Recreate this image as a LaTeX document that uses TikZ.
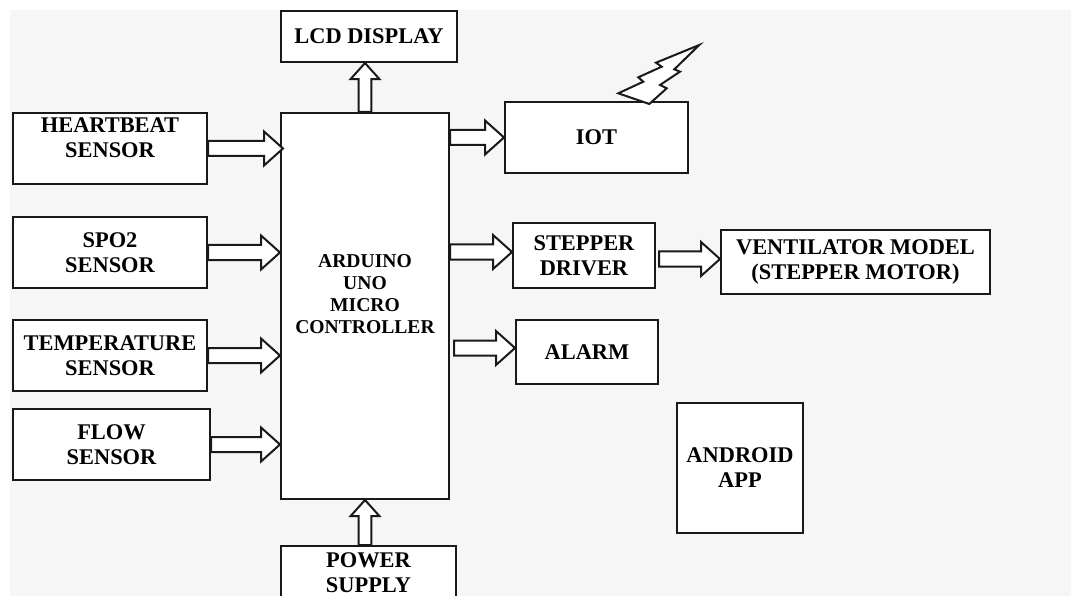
\documentclass[tikz,border=0pt]{standalone}
\usepackage{fontspec}
\setmainfont{Liberation Serif}
\usetikzlibrary{calc,positioning}
\definecolor{pagegrey}{HTML}{F6F6F6}
\newcommand{\BlockArrow}[3][1]% #1=scale (optional), #2 tail, #3 tip
{\coordinate (tempa) at ($(#3)!#1*19pt!(#2)$);
 \draw[arrowline] ($(#2)!#1*7.5pt!90:(#3)$) -- ($(tempa)!#1*7.5pt!90:(#3)$)
   -- ($(tempa)!#1*17pt!90:(#3)$) -- (#3) -- ($(tempa)!#1*17pt!-90:(#3)$)
   -- ($(tempa)!#1*7.5pt!-90:(#3)$) -- ($(#2)!#1*7.5pt!-90:(#3)$) -- cycle;
}
\tikzset{
  block/.style={draw=black!90,line width=2pt,fill=white,inner sep=0pt,align=center,
    font=\fontsize{22.4}{25}\selectfont\bfseries},
  blocktext/.style={inner sep=0pt,align=center,font=\fontsize{22.4}{25}\selectfont\bfseries},
  arrowline/.style={draw=black!90,line width=2pt,fill=white,line join=miter}
}
\begin{document}
\begin{tikzpicture}[x=1pt,y=-1pt]

    %\draw (0,0) grid (1071,596);
    \useasboundingbox (0,0) rectangle (1071,596);
    \clip (0,0) rectangle (1071,596);
    \fill[pagegrey] (10,10) rectangle (1071,596);

    \node[block,minimum width=176,minimum height=51] (lcd) at (369,36.5) {LCD DISPLAY};
    \node[block,minimum width=168,minimum height=386] (mcu) at (365,306) {};
    \node[blocktext,font=\fontsize{19.6}{22}\selectfont\bfseries] (mcutext) at (mcu.center) [yshift=12] {ARDUINO\\UNO\\MICRO\\CONTROLLER};

    \node[block,minimum width=194,minimum height=71] (hb) at (110,148.5) {};
    \node[blocktext] (hbtext) at (hb.center) [yshift=11] {HEARTBEAT\\SENSOR};
    \node[block,minimum width=194,minimum height=71] (spo) at (110,252.5) {SPO2\\SENSOR};
    \node[block,minimum width=194,minimum height=71] (temp) at (110,355.5) {TEMPERATURE\\SENSOR};
    \node[block,minimum width=197,minimum height=71] (flow) at (111.5,444.5) {FLOW\\SENSOR};

    \node[block,minimum width=183,minimum height=71] (iot) at (596.5,137.5) {IOT};
    \node[block,minimum width=142,minimum height=64] (driver) at (584,255.5) {STEPPER\\DRIVER};
    \node[block,minimum width=269,minimum height=64] (vent) at (855.5,262) {VENTILATOR MODEL\\(STEPPER MOTOR)};
    \node[block,minimum width=142,minimum height=64] (alarm) at (587,352) {ALARM};
    \node[block,minimum width=126,minimum height=130] (app) at (740,468) {ANDROID\\APP};
    \node[block,minimum width=175,minimum height=80] (power) at (368.5,586) {};
    \node[blocktext] (powertext) at (power.center) [yshift=13.5] {POWER\\SUPPLY};

    \coordinate (hbin) at ($(hb.east -| mcu.west)+(3,0)$);
    \coordinate (spoin) at (spo.east -| mcu.west);
    \coordinate (tempin) at (temp.east -| mcu.west);
    \coordinate (flowin) at (flow.east -| mcu.west);
    \coordinate (iotout) at (iot.west -| mcu.east);
    \coordinate (driverin) at ($(driver.west)+(0,-3.5)$);
    \coordinate (driverout) at (driverin -| mcu.east);
    \coordinate (ventin) at ($(vent.west)+(0,-3)$);
    \coordinate (ventout) at ($(ventin -| driver.east)+(3,0)$);
    \coordinate (alarmin) at ($(alarm.west)+(0,-4)$);
    \coordinate (alarmout) at ($(alarmin -| mcu.east)+(4,0)$);
    \coordinate (lcdout) at (lcd.south -| mcu.north);
    \coordinate (powerin) at (power.north -| mcu.south);

    \BlockArrow{hb.east}{hbin}
    \BlockArrow{spo.east}{spoin}
    \BlockArrow{temp.east}{tempin}
    \BlockArrow{flow.east}{flowin}
    \BlockArrow{iotout}{iot.west}
    \BlockArrow{driverout}{driverin}
    \BlockArrow{ventout}{ventin}
    \BlockArrow{alarmout}{alarmin}
    \BlockArrow[.85]{mcu.north}{lcdout}
    \BlockArrow[.85]{powerin}{mcu.south}

    % antenna bolt over the IOT box
    \draw[arrowline] (699.3,45) -- (656,62.7) -- (661.7,66.7) -- (638.3,77.3) -- (643.3,81.7)
      -- (618.3,93.3) -- (649.3,104) -- (666.7,88.3) -- (660,85) -- (680,71.7) -- (674.3,69.3) -- cycle;

\end{tikzpicture}
\end{document}
